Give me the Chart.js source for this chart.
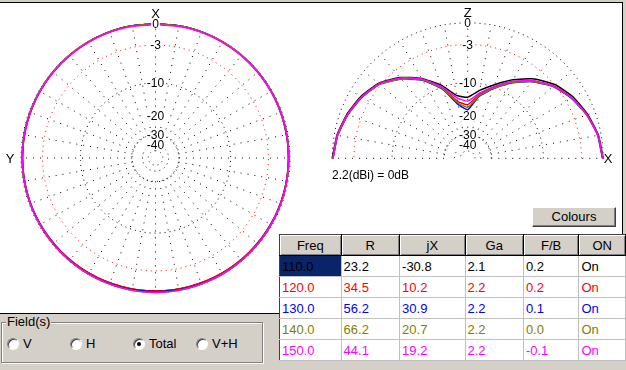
<!DOCTYPE html>
<html>
<head>
<meta charset="utf-8">
<script src="https://cdn.jsdelivr.net/npm/chart.js@4/dist/chart.umd.min.js"></script>
<style>
  body { margin: 0; width: 626px; height: 370px; background: #d4d0c8; position: relative; overflow: hidden;
         font-family: Arial, "Liberation Sans", sans-serif; font-size: 13px; color: #000; }
  #panel { position: absolute; left: -2px; top: 2px; width: 624px; height: 310px; background: #fff;
           border-top: 1px solid #000; border-right: 1px solid #000; border-bottom: 1px solid #000; }
  canvas { position: absolute; }
  #azi { left: 0; top: 3px; }
  #elev { left: 311px; top: 3px; }
  #ref { position: absolute; left: 332px; top: 168px; font-size: 12px; }
  #btn { position: absolute; left: 532px; top: 207px; width: 82px; height: 18px; background: #d4d0c8;
         border: 1px solid; border-color: #fff #404040 #404040 #fff; box-shadow: inset -1px -1px #808080;
         text-align: center; line-height: 18px; font-size: 13px; }
  #tbl { position: absolute; left: 279px; top: 234px; border-collapse: collapse; table-layout: fixed;
         border-left: 1px solid #404040; border-top: 1px solid #404040; background: #fff; }
  #tbl td, #tbl th { height: 20px; padding: 0 0 0 2px; font-size: 13px; font-weight: normal; white-space: nowrap;
         border-right: 1px solid #c0c0c0; border-bottom: 1px solid #c0c0c0; text-align: left; }
  #tbl th { background: #d4d0c8; text-align: center; padding: 0; box-shadow: inset 1px 1px #fff, inset -1px -1px #808080;
         border-right: 1px solid #000; border-bottom: 1px solid #000; }
  #tbl td.sel { background: #0a246a; }
  #grp { position: absolute; left: 1px; top: 322px; width: 260px; height: 39px; border: 1px solid #808080;
         box-shadow: 1px 1px #fff, inset 1px 1px #fff; }
  #grpLabel { position: absolute; left: 6px; top: 314px; background: #d4d0c8; padding: 0 1px; font-size: 13px; }
  .radio { position: absolute; top: 338px; width: 10px; height: 10px; border-radius: 50%; background: #fff;
           border: 1px solid; border-color: #808080 #fff #fff #808080; box-shadow: inset 1px 1px #404040; }
  .radio.on::after { content: ""; position: absolute; left: 3px; top: 3px; width: 4px; height: 4px; border-radius: 50%; background: #000; }
  .rlabel { position: absolute; top: 336px; font-size: 13px; }
</style>
</head>
<body>
<div id="panel"></div>
<canvas id="azi" width="311" height="310"></canvas>
<canvas id="elev" width="310" height="200"></canvas>
<div id="ref">2.2(dBi) = 0dB</div>
<div id="btn">Colours</div>
<table id="tbl"></table>
<div id="grp"></div>
<div id="grpLabel">Field(s)</div>
<div id="radios"></div>
<script>
// table columns and rows
const headers = ['Freq', 'R', 'jX', 'Ga', 'F/B', 'ON'];
const freqs = ['110.0', '120.0', '130.0', '140.0', '150.0'];
const resist = ['23.2', '34.5', '56.2', '66.2', '44.1'];
const react = ['-30.8', '10.2', '30.9', '20.7', '19.2'];
const gainDbi = ['2.1', '2.2', '2.2', '2.2', '2.2'];
const fb = ['0.2', '0.2', '0.1', '0.0', '-0.1'];
const onOff = ['On', 'On', 'On', 'On', 'On'];
const colours = ['#000000', '#ff0000', '#0000ff', '#808000', '#ff00ff'];

// polar grid (dB, ARRL log scale)
const ringDb = [0, -3, -10, -30, -40, -50];
const ringLabelDb = [0, -3, -10, -20, -30, -40];
const spokeStep = 10;

// azimuth pattern, degrees from X toward Y
const aziDeg = [0, 15, 30, 45, 60, 75, 90, 105, 120, 135, 150, 165, 180, 195, 210, 225, 240, 255, 270, 285, 300, 315, 330, 345];
const azi110 = [0, -0.02, -0.06, -0.1, -0.14, -0.18, -0.2, -0.2, -0.2, -0.2, -0.2, -0.2, -0.2, -0.2, -0.2, -0.2, -0.2, -0.2, -0.2, -0.18, -0.14, -0.1, -0.06, -0.02];
const azi120 = [0, -0.02, -0.05, -0.09, -0.13, -0.17, -0.19, -0.2, -0.2, -0.19, -0.19, -0.2, -0.2, -0.2, -0.19, -0.19, -0.2, -0.2, -0.19, -0.17, -0.13, -0.09, -0.05, -0.02];
const azi130 = [0, -0.01, -0.04, -0.07, -0.1, -0.13, -0.15, -0.15, -0.13, -0.1, -0.07, -0.08, -0.1, -0.08, -0.07, -0.1, -0.13, -0.15, -0.15, -0.13, -0.1, -0.07, -0.04, -0.01];
const azi140 = [0, -0.01, -0.03, -0.06, -0.09, -0.12, -0.14, -0.14, -0.12, -0.09, -0.05, -0.02, 0, -0.02, -0.05, -0.09, -0.12, -0.14, -0.14, -0.12, -0.09, -0.06, -0.03, -0.01];
const azi150 = [-0.1, -0.1, -0.11, -0.13, -0.15, -0.17, -0.18, -0.17, -0.15, -0.12, -0.08, -0.04, 0, -0.04, -0.08, -0.12, -0.15, -0.17, -0.18, -0.17, -0.15, -0.13, -0.11, -0.1];

// elevation pattern, degrees from X up through Z
const elevDeg = [0, 10, 20, 30, 40, 50, 60, 70, 80, 90, 100, 110, 120, 130, 140, 150, 160, 170, 180];
const elev110 = [0, -0.35, -1.0, -1.8, -2.9, -4.6, -6.9, -9.4, -11.6, -13.7, -12.9, -9.5, -6.6, -4.3, -2.6, -1.6, -0.9, -0.35, 0];
const elev120 = [-0.05, -0.4, -1.1, -2.0, -3.2, -5.0, -7.4, -10.1, -12.8, -15.9, -14.6, -10.1, -6.8, -4.5, -2.7, -1.7, -1.0, -0.4, -0.1];
const elev130 = [-0.1, -0.45, -1.15, -2.1, -3.3, -5.2, -7.6, -10.4, -13.3, -17.6, -15.6, -10.5, -7.0, -4.6, -2.8, -1.8, -1.05, -0.45, -0.1];
const elev140 = [-0.05, -0.42, -1.15, -2.05, -3.25, -5.2, -7.5, -10.3, -13.1, -16.8, -15.1, -10.3, -6.9, -4.6, -2.8, -1.75, -1.0, -0.42, -0.1];
const elev150 = [-0.05, -0.4, -1.1, -2.0, -3.2, -5.0, -7.3, -9.9, -12.4, -14.8, -13.6, -9.9, -6.7, -4.4, -2.7, -1.7, -1.0, -0.4, -0.1];

const aziGains = [azi110, azi120, azi130, azi140, azi150];
const elevGains = [elev110, elev120, elev130, elev140, elev150];

// ---- table ----
const tbl = document.getElementById('tbl');
const widths = [59, 56, 63, 56, 53, 44];
let html = '<colgroup>' + widths.map(w => '<col style="width:' + (w + 3) + 'px">').join('') + '</colgroup>';
html += '<tr>' + headers.map(h => '<th>' + h + '</th>').join('') + '</tr>';
freqs.forEach((f, i) => {
  const c = colours[i];
  const cells = [f, resist[i], react[i], gainDbi[i], fb[i], onOff[i]];
  html += '<tr>' + cells.map((v, j) => '<td' + (i === 0 && j === 0 ? ' class="sel"' : '') + ' style="color:' + c + '">' + v + '</td>').join('') + '</tr>';
});
tbl.innerHTML = html;

// ---- radio buttons ----
const radioNames = ['V', 'H', 'Total', 'V+H'];
const radioX = [7, 70, 133, 196];
const radios = document.getElementById('radios');
radioNames.forEach((n, i) => {
  radios.innerHTML += '<div class="radio' + (n === 'Total' ? ' on' : '') + '" style="left:' + radioX[i] + 'px"></div>' +
    '<div class="rlabel" style="left:' + (radioX[i] + 16) + 'px">' + n + '</div>';
});

// ---- polar helpers ----
const toR = db => Math.pow(0.89, -db / 2);
const rad = d => d * Math.PI / 180;
const aziPt = (deg, db) => ({ x: -toR(db) * Math.sin(rad(deg)), y: toR(db) * Math.cos(rad(deg)) });
const elevPt = (deg, db) => ({ x: toR(db) * Math.cos(rad(deg)), y: toR(db) * Math.sin(rad(deg)) });

function gridDatasets(ptFn, span) {
  const sets = [];
  ringDb.forEach(db => {
    const pts = [];
    for (let a = 0; a <= span; a += 2) pts.push(ptFn(a, db));
    sets.push({ data: pts, showLine: true, borderColor: db === -3 ? '#ff0000' : '#000000', borderWidth: 1,
                borderDash: [1, 4], pointRadius: 0, order: 10 });
  });
  const spokes = [];
  for (let a = 0; a < span + (span === 360 ? 0 : 1); a += spokeStep) {
    spokes.push(ptFn(a, -30), ptFn(a, 0), { x: null, y: null });
  }
  sets.push({ data: spokes, showLine: true, borderColor: '#000000', borderWidth: 1, borderDash: [1, 6],
              pointRadius: 0, order: 10 });
  return sets;
}

function patternDatasets(degs, gains, ptFn, closed, tension) {
  return gains.map((g, i) => {
    const pts = degs.map((d, k) => ptFn(d, g[k]));
    if (closed) pts.push(pts[0]);
    return { label: freqs[i], data: pts, showLine: true, borderColor: colours[i], borderWidth: 1.5,
             pointRadius: 0, tension: tension, order: 5 - i };
  });
}

function labelPlugin(axisA, axisB, sideX) {
  return {
    id: 'polarLabels',
    afterDatasetsDraw(chart) {
      const ctx = chart.ctx, xs = chart.scales.x, ys = chart.scales.y;
      const cx = xs.getPixelForValue(0), cy = ys.getPixelForValue(0);
      const R = xs.getPixelForValue(1) - cx;
      ctx.save();
      ctx.font = '12px Arial, "Liberation Sans", sans-serif';
      ctx.textAlign = 'center';
      ctx.textBaseline = 'middle';
      ringLabelDb.forEach(db => {
        const py = ys.getPixelForValue(toR(db));
        const t = db === 0 ? '0' : '-' + Math.abs(db);
        const w = ctx.measureText(t).width;
        ctx.fillStyle = '#fff';
        ctx.fillRect(cx - w / 2 - 1, py - 5, w + 2, 10);
        ctx.fillStyle = '#000';
        ctx.fillText(t, cx, py + 1);
      });
      ctx.font = '13px Arial, "Liberation Sans", sans-serif';
      ctx.fillText(axisA, cx, cy - R - 9);
      if (sideX < 0) ctx.fillText(axisB, cx - R - 11, cy + 1);
      else ctx.fillText(axisB, cx + R + 5, cy + 1);
      ctx.restore();
    }
  };
}

function polarChart(id, w, h, cxPx, cyPx, rPx, datasets, plugin) {
  new Chart(document.getElementById(id), {
    type: 'scatter',
    data: { datasets: datasets },
    options: {
      responsive: false, animation: false, events: [],
      layout: { padding: 0 },
      scales: {
        x: { type: 'linear', display: false, min: -cxPx / rPx, max: (w - cxPx) / rPx },
        y: { type: 'linear', display: false, min: -(h - cyPx) / rPx, max: cyPx / rPx }
      },
      plugins: { legend: { display: false }, tooltip: { enabled: false } }
    },
    plugins: [plugin]
  });
}

polarChart('azi', 311, 310, 155.5, 155, 134.5,
  gridDatasets(aziPt, 360).concat(patternDatasets(aziDeg, aziGains, aziPt, true, 0.4)),
  labelPlugin('X', 'Y', -1));

polarChart('elev', 310, 200, 156.7, 155.3, 135.5,
  gridDatasets(elevPt, 180).concat(patternDatasets(elevDeg, elevGains, elevPt, false, 0.15)),
  labelPlugin('Z', 'X', 1));
</script>
</body>
</html>
